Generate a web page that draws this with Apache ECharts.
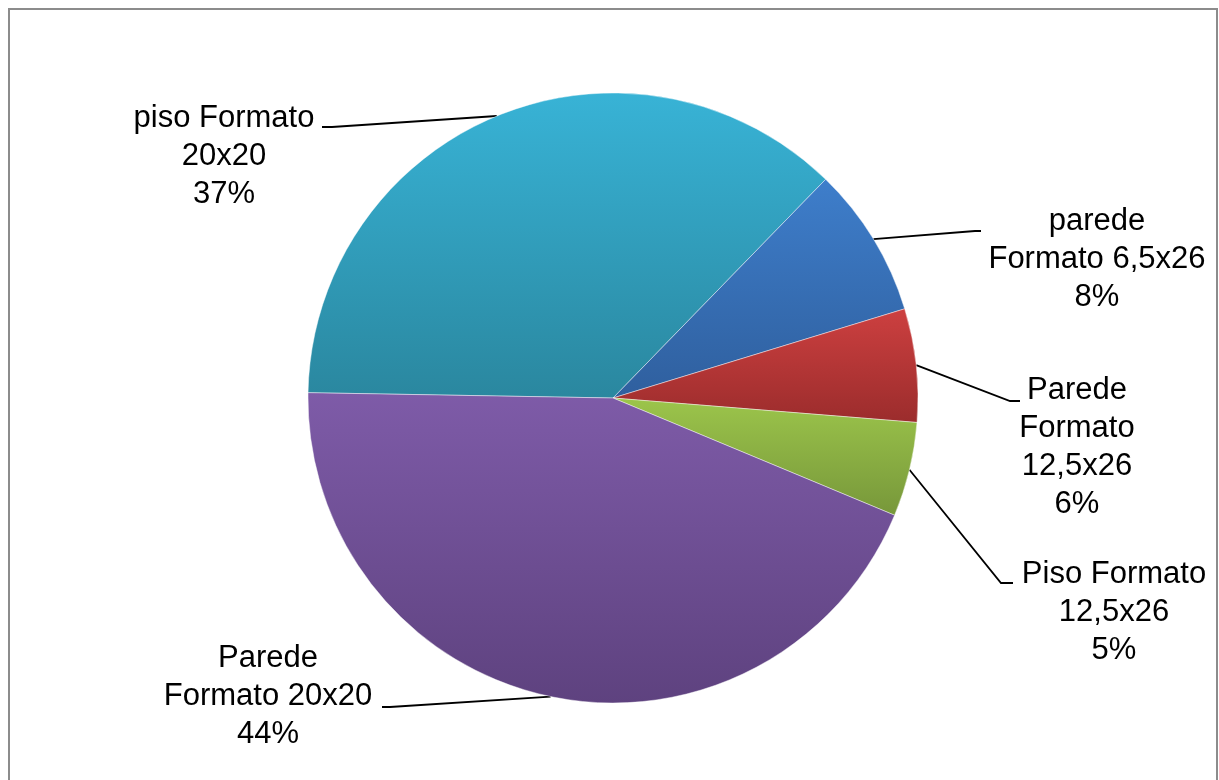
<!DOCTYPE html>
<html>
<head>
<meta charset="utf-8">
<script src="https://cdn.jsdelivr.net/npm/echarts@6/dist/echarts.min.js"></script>
<style>
  html, body { margin: 0; padding: 0; background: #fff; }
  #chart { width: 1219px; height: 780px; }
</style>
</head>
<body>
<div id="chart"></div>
<script>
// categories (label text, wrapped like the original) and values in %
var categories = ['piso Formato\n20x20', 'parede\nFormato 6,5x26', 'Parede\nFormato\n12,5x26', 'Piso Formato\n12,5x26', 'Parede\nFormato 20x20'];
var values = [37, 8, 6, 5, 44];

// gradient colours per slice: top, bottom
var topColors = ['#38b3d6', '#3e7ecb', '#cd4040', '#9cc54b', '#7e5ba8'];
var bottomColors = ['#2a879f', '#2f5f9e', '#9b2c2c', '#77973a', '#5e427f'];

// label block centres and leader line elbow / end points
var labelPos = [[224, 156], [1097, 259], [1077, 447], [1114, 612], [268, 696]];
var lineElbow = [[332, 127], [975, 231], [1010, 401], [1001, 583], [390, 707]];
var lineEnd = [[322, 127], [981, 231], [1020, 401], [1013, 583], [382, 707]];

var myChart = echarts.init(document.getElementById('chart'));

var pieData = [];
for (var i = 0; i < categories.length; i++) {
    pieData.push({
        name: categories[i],
        value: values[i],
        itemStyle: {
            color: new echarts.graphic.LinearGradient(0, 0, 0, 1, [
                { offset: 0, color: topColors[i] },
                { offset: 1, color: bottomColors[i] }
            ])
        }
    });
}

var option = {
    animation: false,
    backgroundColor: '#fff',
    graphic: [{
        type: 'rect',
        shape: { x: 9, y: 9, width: 1208, height: 800 },
        style: { fill: 'none', stroke: '#8c8c8c', lineWidth: 2 },
        z: 100
    }],
    series: [{
        type: 'pie',
        center: [613, 398],
        radius: 305,
        startAngle: 179,
        clockwise: true,
        avoidLabelOverlap: false,
        percentPrecision: 0,
        itemStyle: {
            borderColor: 'rgba(255,255,255,0.55)',
            borderWidth: 0.8
        },
        label: {
            show: true,
            position: 'outside',
            formatter: '{b}\n{d}%',
            color: '#000',
            fontFamily: 'Liberation Sans, Arial, sans-serif',
            fontSize: 31,
            lineHeight: 38
        },
        labelLine: {
            show: true,
            length: 20,
            length2: 20,
            lineStyle: { color: '#000', width: 1.8 }
        },
        labelLayout: function (params) {
            var k = params.dataIndex;
            var p0 = params.labelLinePoints ? params.labelLinePoints[0] : lineElbow[k];
            return {
                x: labelPos[k][0],
                y: labelPos[k][1],
                align: 'center',
                verticalAlign: 'middle',
                labelLinePoints: [p0, lineElbow[k], lineEnd[k]]
            };
        },
        emphasis: { disabled: true },
        data: pieData
    }]
};

myChart.setOption(option);
</script>
</body>
</html>
